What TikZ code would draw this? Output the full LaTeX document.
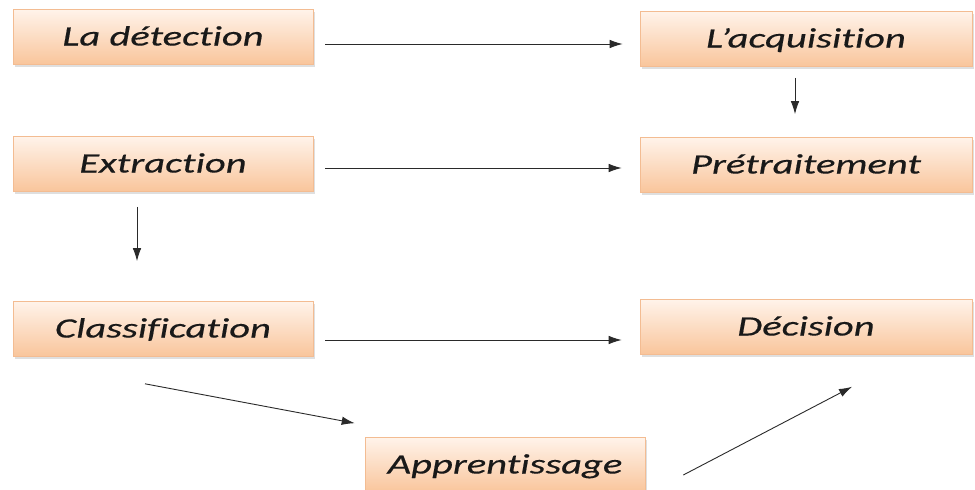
\documentclass[tikz,border=0pt]{standalone}
\usepackage{fontspec}
\setmainfont{Carlito}
\newfontfamily\boxfont{Carlito}[FakeStretch=1.45, FakeBold=0.4, Ligatures=NoCommon]
\usetikzlibrary{arrows.meta,shadows}
\definecolor{peachtop}{HTML}{FFF3EA}
\definecolor{peachbot}{HTML}{F9C59B}
\definecolor{peachline}{HTML}{F3BC92}
\definecolor{arrowgray}{HTML}{2A2A2A}
\tikzset{
  stepbox/.style={rectangle, draw=peachline, line width=0.6pt,
    top color=peachtop, bottom color=peachbot,
    minimum width=300pt, minimum height=55pt, inner sep=0pt,
    text height=20pt, text depth=3pt,
    font=\boxfont\fontsize{28}{32}\selectfont\itshape, text=black!90,
    drop shadow={opacity=0.25, shadow xshift=1.5pt, shadow yshift=-2pt}},
  arr/.style={draw=arrowgray, line width=0.9pt, -{Latex[length=13pt,width=8.5pt]}}
}
\begin{document}
\begin{tikzpicture}[x=1pt,y=-1pt]
  \useasboundingbox (0,0) rectangle (975,490);
  \clip (0,0) rectangle (975,490);
  \fill[white] (0,0) rectangle (975,490);
  % process steps
  \node[stepbox] (det) at (163,37) {La détection};
  \node[stepbox, minimum width=332pt] (acq) at (806,39) {L’acquisition};
  \node[stepbox] (ext) at (163,164) {Extraction};
  \node[stepbox, minimum width=332pt] (pre) at (806,165) {Prétraitement};
  \node[stepbox] (cls) at (163,329) {Classification};
  \node[stepbox, minimum width=332pt] (dec) at (806,327) {Décision};
  \node[stepbox, minimum width=280pt] (app) at (505,465) {Apprentissage};
  % connectors
  \draw[arr] ([xshift=12pt,yshift=-7pt]det.east) -- ([xshift=-17pt,yshift=-5pt]acq.west);
  \draw[arr] ([xshift=-11pt,yshift=-11pt]acq.south) -- ([xshift=-11pt,yshift=23pt]pre.north);
  \draw[arr] ([xshift=12pt,yshift=-4pt]ext.east) -- ([xshift=-18pt,yshift=-3pt]pre.west);
  \draw[arr] ([xshift=-26pt,yshift=-15pt]ext.south) -- ([xshift=-26pt,yshift=40pt]cls.north);
  \draw[arr] ([xshift=12pt,yshift=-11pt]cls.east) -- ([xshift=-18pt,yshift=-13pt]dec.west);
  \draw[arr] ([xshift=-18pt,yshift=-27pt]cls.south) -- ([xshift=-10pt,yshift=14pt]app.north west);
  \draw[arr] ([xshift=38pt,yshift=-10pt]app.east) -- ([xshift=46pt,yshift=-32pt]dec.south);
\end{tikzpicture}
\end{document}
